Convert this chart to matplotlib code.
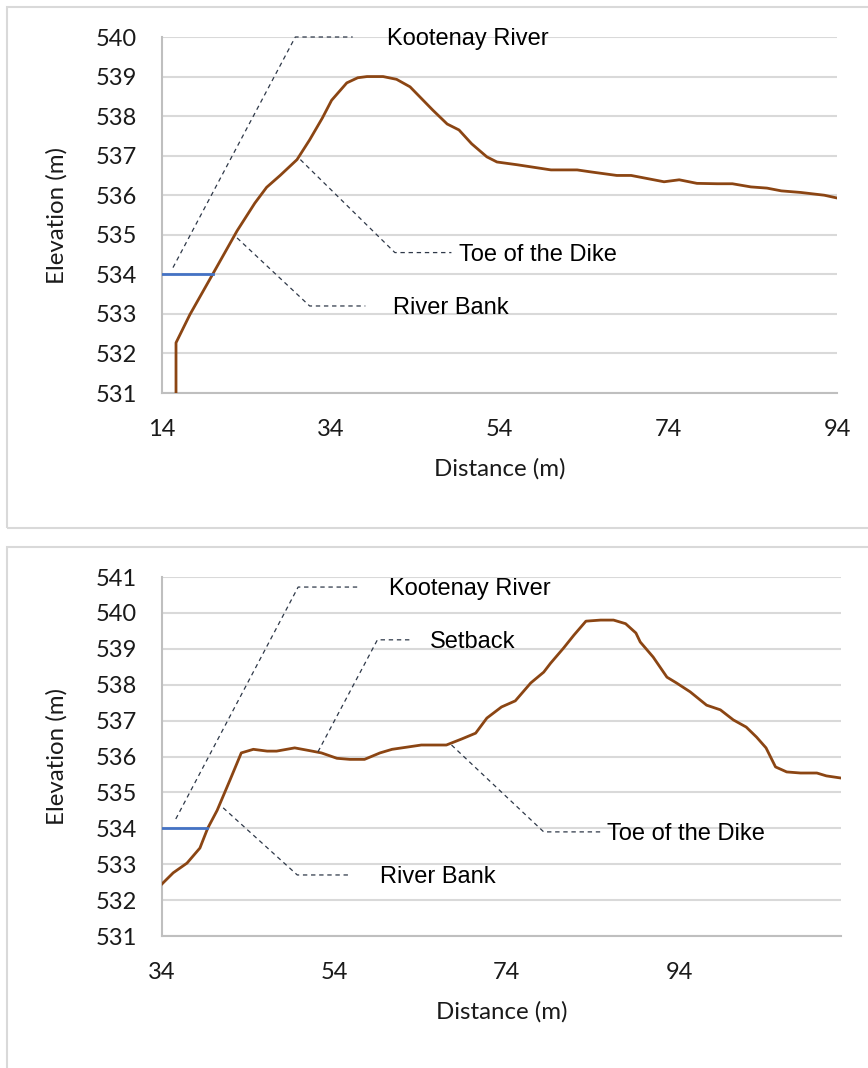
import matplotlib
matplotlib.use("Agg")
import matplotlib.pyplot as plt
from matplotlib.patches import Rectangle

# ---------------- data ----------------
p1_dist = [15.66, 15.66, 17.3, 20.0, 22.9, 25.0, 26.4, 28.0, 30.0, 31.5, 33.0, 34.1, 35.9,
           37.2, 38.3, 40.2, 41.8, 43.4, 46.1, 47.8, 49.2, 50.7, 52.5, 53.7, 56.1, 60.1,
           63.2, 64.8, 67.9, 69.6, 73.5, 75.3, 77.4, 79.8, 81.6, 83.8, 85.7, 87.4, 89.7,
           92.5, 94.0]
p1_elev = [531.0, 532.27, 532.98, 534.0, 535.1, 535.8, 536.2, 536.5, 536.9, 537.4, 537.95,
           538.4, 538.84, 538.97, 539.0, 539.0, 538.93, 538.74, 538.15, 537.8, 537.65,
           537.3, 536.97, 536.84, 536.77, 536.64, 536.64, 536.59, 536.5, 536.5, 536.34,
           536.39, 536.3, 536.29, 536.29, 536.21, 536.18, 536.11, 536.07, 536.0, 535.93]
p1_water_dist = [14.0, 20.0]
p1_water_elev = [534.0, 534.0]

p2_dist = [34.0, 35.3, 36.9, 38.4, 39.3, 40.4, 41.9, 43.2, 44.6, 46.2, 47.3, 49.4, 51.2,
           52.5, 54.3, 55.8, 57.5, 59.3, 60.7, 62.4, 64.1, 65.5, 67.0, 68.8, 70.4, 71.7,
           73.4, 75.0, 76.8, 78.3, 79.1, 80.6, 81.8, 83.2, 84.9, 86.4, 87.8, 89.0, 89.5,
           91.0, 92.6, 93.7, 95.3, 97.2, 98.8, 100.3, 101.8, 103.0, 104.1, 105.2, 106.5,
           108.1, 110.0, 111.1, 112.8]
p2_elev = [532.45, 532.76, 533.03, 533.45, 534.0, 534.5, 535.35, 536.1, 536.2, 536.15,
           536.15, 536.24, 536.16, 536.1, 535.95, 535.92, 535.92, 536.1, 536.2, 536.26,
           536.32, 536.32, 536.32, 536.49, 536.65, 537.07, 537.38, 537.55, 538.05, 538.35,
           538.6, 539.02, 539.38, 539.77, 539.8, 539.8, 539.7, 539.44, 539.19, 538.77,
           538.21, 538.05, 537.8, 537.43, 537.3, 537.02, 536.82, 536.54, 536.24, 535.71,
           535.57, 535.54, 535.54, 535.46, 535.4]
p2_water_dist = [34.0, 39.2]
p2_water_elev = [534.0, 534.0]

p1_xticks = [14, 34, 54, 74, 94]
p1_yticks = [531, 532, 533, 534, 535, 536, 537, 538, 539, 540]
p2_xticks = [34, 54, 74, 94]
p2_yticks = [531, 532, 533, 534, 535, 536, 537, 538, 539, 540, 541]

p1_labels = ["Kootenay River", "Toe of the Dike", "River Bank"]
p2_labels = ["Kootenay River", "Setback", "Toe of the Dike", "River Bank"]

# annotation leader geometry: (start x, start y, elbow x, elbow y, end x, text x)
p1_leaders = [(15.3, 534.17, 29.8, 540.0, 36.6, 40.7),
              (30.4, 536.9, 41.6, 534.55, 48.3, 49.2),
              (22.9, 534.92, 31.5, 533.2, 38.1, 41.4)]
p2_leaders = [(35.6, 534.26, 49.8, 540.72, 56.7, 60.4),
              (52.1, 536.13, 59.0, 539.25, 63.1, 65.1),
              (67.6, 536.32, 78.3, 533.9, 84.9, 85.6),
              (41.1, 534.57, 49.7, 532.7, 56.0, 59.3)]

# ---------------- style ----------------
W, H = 868, 1068
CURVE = "#8B4513"
WATER = "#4472C4"
GRID = "#D9D9D9"
LEAD = "#2E3848"
TICKFONT = "Lato"
ANNFONT = "Liberation Sans"

fig = plt.figure(figsize=(W / 100, H / 100), dpi=100)
fig.patch.set_facecolor("white")

# panel borders
for (x0, y0, x1, y1) in [(7, 7, 875, 528), (7, 547, 875, 1080)]:
    fig.add_artist(Rectangle((x0 / W, 1 - y1 / H), (x1 - x0) / W, (y1 - y0) / H,
                             transform=fig.transFigure, fill=False,
                             edgecolor=GRID, linewidth=1.5, clip_on=False))


def make_axes(px_left, px_top, px_right, px_bottom):
    return fig.add_axes([px_left / W, 1 - px_bottom / H,
                         (px_right - px_left) / W, (px_bottom - px_top) / H])


def style(ax, xlim, ylim, xticks, yticks):
    ax.set_xlim(*xlim)
    ax.set_ylim(*ylim)
    ax.set_xticks(xticks)
    ax.set_yticks(yticks)
    ax.grid(axis="y", color=GRID, linewidth=1.5)
    ax.set_axisbelow(True)
    for s in ["top", "right"]:
        ax.spines[s].set_visible(False)
    ax.spines["left"].set_color("#BFBFBF")
    ax.spines["bottom"].set_color("#BFBFBF")
    ax.spines["left"].set_linewidth(1.5)
    ax.spines["bottom"].set_linewidth(1.5)
    ax.tick_params(length=0, labelsize=17, colors="#1a1a1a")
    ax.tick_params(axis="y", pad=18)
    ax.tick_params(axis="x", pad=19)
    for lab in ax.get_xticklabels() + ax.get_yticklabels():
        lab.set_fontfamily(TICKFONT)
    ax.set_xlabel("Distance (m)", fontsize=17.3, family=TICKFONT, color="#1a1a1a", labelpad=13)
    ax.set_ylabel("Elevation (m)", fontsize=17.3, family=TICKFONT, color="#1a1a1a", labelpad=20)


def annotate(ax, leaders, labels):
    for (sx, sy, ex, ey, hx, tx), lab in zip(leaders, labels):
        ax.plot([sx, ex, hx], [sy, ey, ey], linestyle=(0, (3.5, 3)), color=LEAD,
                linewidth=0.9, clip_on=False, zorder=4)
        ax.annotate(lab, xy=(tx, ey), xytext=(0, -6), textcoords="offset points",
                    fontsize=17, family=ANNFONT, color="black",
                    va="baseline", ha="left", zorder=5)


# ---------------- panel 1 ----------------
ax1 = make_axes(162, 37, 837, 393)
style(ax1, (14, 94), (531, 540), p1_xticks, p1_yticks)
ax1.plot(p1_dist, p1_elev, color=CURVE, linewidth=2.0, zorder=3, solid_joinstyle="round")
ax1.plot(p1_water_dist, p1_water_elev, color=WATER, linewidth=2.0, zorder=3)
annotate(ax1, p1_leaders, p1_labels)

# ---------------- panel 2 ----------------
ax2 = make_axes(162, 577, 841, 936)
style(ax2, (34, 112.8), (531, 541), p2_xticks, p2_yticks)
ax2.plot(p2_dist, p2_elev, color=CURVE, linewidth=2.0, zorder=3, solid_joinstyle="round")
ax2.plot(p2_water_dist, p2_water_elev, color=WATER, linewidth=2.0, zorder=3)
annotate(ax2, p2_leaders, p2_labels)

fig.savefig("out.png", dpi=100, facecolor="white")
